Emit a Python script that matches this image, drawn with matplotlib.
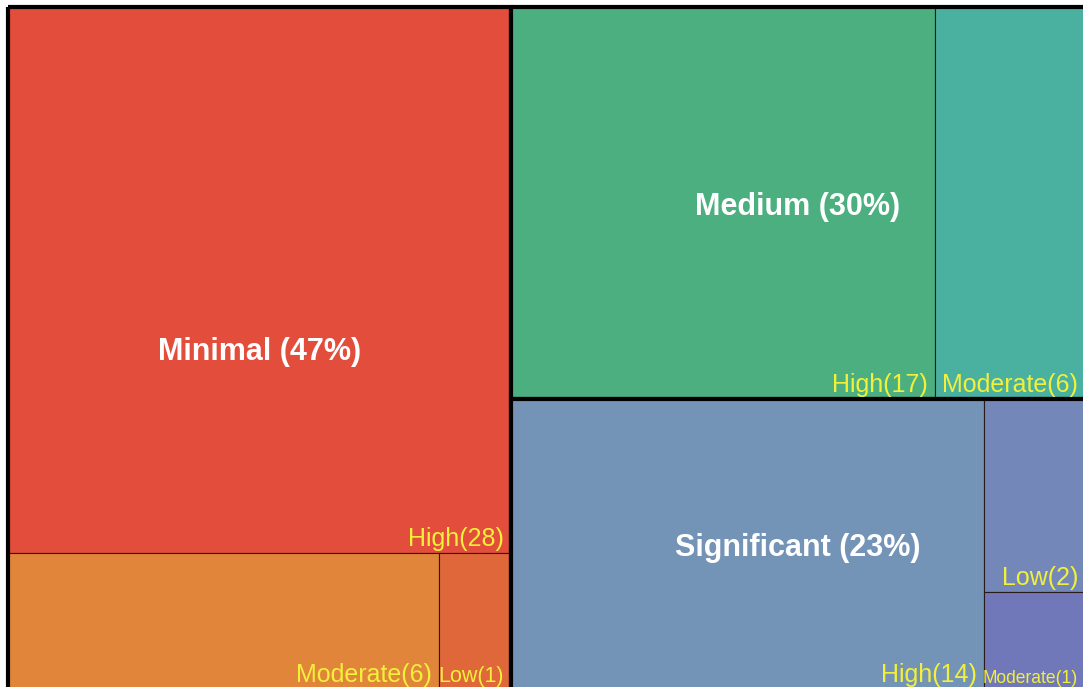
import matplotlib.pyplot as plt
from matplotlib.patches import Rectangle

plt.rcParams['font.family'] = ['Liberation Sans', 'DejaVu Sans']

# data
groups = ['Minimal', 'Medium', 'Significant']
group_pct = ['47%', '30%', '23%']
leaf_names = [['High', 'Moderate', 'Low'],
              ['High', 'Moderate'],
              ['High', 'Low', 'Moderate']]
leaf_counts = [[28, 6, 1],
               [17, 6],
               [14, 2, 1]]
leaf_colors = [['#E34D3B', '#E0853A', '#E0673A'],
               ['#4CAF7F', '#4AB09F'],
               ['#7393B7', '#7388B8', '#7178BA']]


def worst(row, side):
    s = sum(row)
    return max(max(side ** 2 * r / s ** 2, s ** 2 / (side ** 2 * r)) for r in row)


def squarify(values, x, y, w, h):
    # returns list of (x, y, w, h) in the same order as values (sorted desc)
    total = sum(values)
    vals = [v * w * h / total for v in values]
    rects = []
    while vals:
        side = min(w, h)
        row = [vals[0]]
        i = 1
        while i < len(vals) and worst(row + [vals[i]], side) <= worst(row, side):
            row.append(vals[i])
            i += 1
        s = sum(row)
        if w >= h:
            rw = s / h
            yy = y
            for r in row:
                rects.append((x, yy, rw, r / rw))
                yy += r / rw
            x += rw
            w -= rw
        else:
            rh = s / w
            xx = x
            for r in row:
                rects.append((xx, y, r / rh, rh))
                xx += r / rh
            y += rh
            h -= rh
        vals = vals[i:]
    return rects


W, H = 1083, 687
fig = plt.figure(figsize=(W / 100, H / 100), dpi=100)
ax = fig.add_axes([0, 0, 1, 1])
ax.set_xlim(0, W)
ax.set_ylim(H, 0)
ax.axis('off')
renderer = fig.canvas.get_renderer()

group_totals = [sum(c) for c in leaf_counts]
group_rects = squarify(group_totals, 8, 7, 1077, 682)

for gi, (gx, gy, gw, gh) in enumerate(group_rects):
    order = sorted(range(len(leaf_counts[gi])), key=lambda k: -leaf_counts[gi][k])
    vals = [leaf_counts[gi][k] for k in order]
    rects = squarify(vals, gx, gy, gw, gh)
    for k, (lx, ly, lw, lh) in zip(order, rects):
        ax.add_patch(Rectangle((lx, ly), lw, lh, facecolor=leaf_colors[gi][k],
                               edgecolor='#2a1a1a', linewidth=0.8))
        t = ax.text(lx + lw - 7, ly + lh - 2,
                    f'{leaf_names[gi][k]}({leaf_counts[gi][k]})',
                    ha='right', va='bottom', color='#F2F03A', fontsize=18)
        tw = t.get_window_extent(renderer).width
        if tw > lw - 6:
            t.set_fontsize(18 * (lw - 6) / tw)
    ax.add_patch(Rectangle((gx, gy), gw, gh, facecolor='none',
                           edgecolor='black', linewidth=3))
    ax.text(gx + gw / 2, gy + gh / 2 + 4, f'{groups[gi]} ({group_pct[gi]})',
            ha='center', va='center', color='white', fontsize=22,
            fontweight='bold')

fig.savefig('out.png', dpi=100)
